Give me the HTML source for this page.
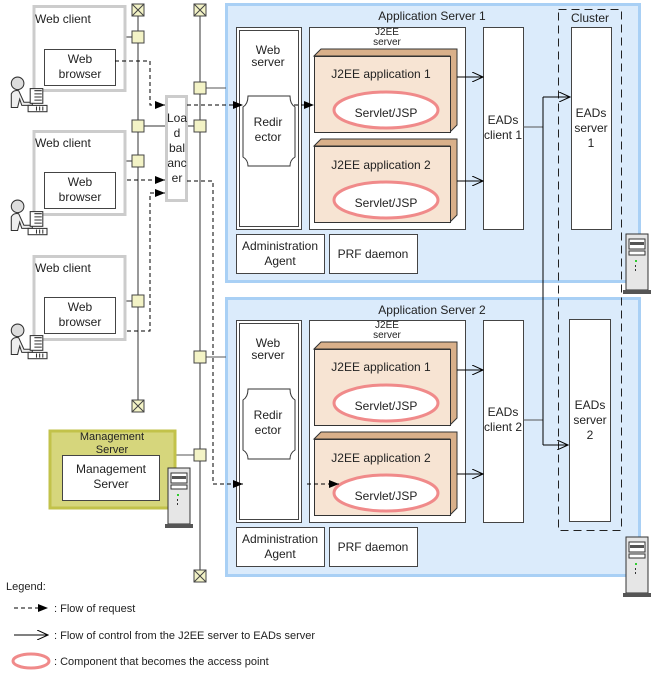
<!DOCTYPE html>
<html><head><meta charset="utf-8"><style>
html,body{margin:0;padding:0;background:#fff}
text{font-family:"Liberation Sans",Arial,sans-serif;fill:#222}
</style></head><body>
<svg width="661" height="677" viewBox="0 0 661 677" xmlns="http://www.w3.org/2000/svg">
<defs>
<marker id="fa" markerWidth="10" markerHeight="8" refX="10" refY="4" orient="auto" markerUnits="userSpaceOnUse"><path d="M0,0 L10,4 L0,8 z" fill="#000"/></marker>
<marker id="oa" markerWidth="12" markerHeight="10" refX="11" refY="5" orient="auto" markerUnits="userSpaceOnUse"><path d="M0,0 L11,5 L0,10" fill="none" stroke="#000" stroke-width="1"/></marker>
<g id="sq"><rect x="-6" y="-6" width="12" height="12" fill="#f3f3c6" stroke="#444"/></g>
<g id="term"><rect x="-6" y="-6" width="12" height="12" fill="#f3f3c6" stroke="#444"/><path d="M-6,-6 L6,6 M6,-6 L-6,6" stroke="#444"/></g>
<g id="srv"><rect x="2" y="0" width="22" height="56" fill="#e6e6e6" stroke="#333"/><rect x="5" y="5" width="16" height="10" fill="#fff" stroke="#333"/><rect x="6" y="8" width="14" height="3" fill="#555"/><rect x="5" y="17" width="16" height="4" fill="#fff" stroke="#333"/><rect x="11" y="26" width="2" height="2" fill="#3c3"/><rect x="11" y="31" width="1" height="2" fill="#333"/><rect x="11" y="35" width="1" height="2" fill="#333"/><rect x="-1" y="56" width="28" height="4" fill="#555"/></g>
<g id="usr"><circle cx="12" cy="7" r="6" fill="#ddd" stroke="#333"/><path d="M6,30 L6,17 Q8,13 13,14 L18,25 L26,25 L26,28 L16,28 L14,22 L12,30 Z" fill="#eee" stroke="#333"/><rect x="24" y="12" width="12" height="14" fill="#fff" stroke="#333"/><path d="M28,14 h7 M28,17 h7 M28,20 h7 M28,23 h7" stroke="#333"/><rect x="22" y="28" width="18" height="6" fill="#fff" stroke="#333"/><path d="M30,29 v4 M33,29 v4 M36,29 v4" stroke="#333"/></g>
</defs>

<rect x="226.5" y="4.5" width="413" height="277" fill="#dbebfb" stroke="#a9d0f5" stroke-width="3"/>
<rect x="226.5" y="298.5" width="413" height="277" fill="#dbebfb" stroke="#a9d0f5" stroke-width="3"/>
<text x="432" y="20" font-size="12" text-anchor="middle">Application Server 1</text>
<text x="432" y="314" font-size="12" text-anchor="middle">Application Server 2</text>

<line x1="138" y1="10" x2="138" y2="406" stroke="#333"/>
<line x1="200" y1="10" x2="200" y2="576" stroke="#333"/>
<line x1="126" y1="37" x2="138" y2="37" stroke="#333"/>
<line x1="126" y1="161" x2="138" y2="161" stroke="#333"/>
<line x1="126" y1="301" x2="138" y2="301" stroke="#333"/>
<line x1="138" y1="126" x2="165" y2="126" stroke="#333"/>
<line x1="187" y1="126" x2="200" y2="126" stroke="#333"/>
<line x1="200" y1="88" x2="226" y2="88" stroke="#555"/>
<line x1="200" y1="357" x2="226" y2="357" stroke="#555"/>
<line x1="176" y1="455" x2="200" y2="455" stroke="#555"/>
<use href="#term" x="138" y="10"/><use href="#term" x="138" y="406"/>
<use href="#term" x="200" y="10"/><use href="#term" x="200" y="576"/>
<use href="#sq" x="138" y="37"/><use href="#sq" x="138" y="126"/><use href="#sq" x="138" y="161"/><use href="#sq" x="138" y="301"/>
<use href="#sq" x="200" y="88"/><use href="#sq" x="200" y="126"/><use href="#sq" x="200" y="357"/><use href="#sq" x="200" y="455"/>

<g fill="#fff" stroke="#ccc" stroke-width="3">
<rect x="34" y="6.5" width="91" height="84"/><rect x="34" y="131.5" width="91" height="83"/><rect x="34" y="256.5" width="91" height="83"/>
</g>
<text x="35" y="23" font-size="12">Web client</text>
<text x="35" y="147" font-size="12">Web client</text>
<text x="35" y="272" font-size="12">Web client</text>
<g fill="#fff" stroke="#444"><rect x="44.5" y="49.5" width="71" height="36"/><rect x="44.5" y="172.5" width="71" height="36"/><rect x="44.5" y="297.5" width="71" height="36"/></g>
<g font-size="12" text-anchor="middle"><text x="80" y="63">Web</text><text x="80" y="78">browser</text><text x="80" y="186">Web</text><text x="80" y="201">browser</text><text x="80" y="311">Web</text><text x="80" y="326">browser</text></g>
<use href="#usr" transform="translate(5,76) scale(1.05)"/><use href="#usr" transform="translate(5,199) scale(1.05)"/><use href="#usr" transform="translate(5,323) scale(1.05)"/>

<rect x="166.5" y="96.5" width="20" height="104" fill="#fff" stroke="#ccc" stroke-width="3"/>
<g font-size="12" text-anchor="middle"><text x="177" y="122">Loa</text><text x="177" y="137">d</text><text x="177" y="152">bal</text><text x="177" y="167">anc</text><text x="177" y="182">er</text></g>

<rect x="50" y="431" width="125" height="77" fill="#d6d67c" stroke="#c2c24a" stroke-width="3"/>
<text x="112" y="440" font-size="11" text-anchor="middle">Management</text>
<text x="112" y="453" font-size="11" text-anchor="middle">Server</text>
<rect x="62.5" y="455.5" width="97" height="45" fill="#fff" stroke="#444"/>
<text x="111" y="473" font-size="12" text-anchor="middle">Management</text>
<text x="111" y="488" font-size="12" text-anchor="middle">Server</text>
<use href="#srv" x="166" y="468"/>
<use href="#srv" x="624" y="234"/>
<use href="#srv" x="624" y="537"/>

<g id="as1">
<rect x="236.5" y="27.5" width="65" height="202" fill="#fff" stroke="#444"/>
<rect x="239.5" y="30.5" width="59" height="196" fill="none" stroke="#444"/>
<text x="268" y="54" font-size="12" text-anchor="middle">Web</text><text x="268" y="66" font-size="12" text-anchor="middle">server</text>
<path d="M248,96 H290 Q290,104 295,107 V157 Q290,160 290,166 H248 Q248,160 243,157 V107 Q248,104 248,96 Z" fill="#fff" stroke="#333"/>
<text x="268" y="126" font-size="12" text-anchor="middle">Redir</text><text x="268" y="141" font-size="12" text-anchor="middle">ector</text>
<rect x="309.5" y="27.5" width="156" height="202" fill="#fff" stroke="#444"/>
<text x="387" y="35" font-size="10" text-anchor="middle">J2EE</text><text x="387" y="45" font-size="10" text-anchor="middle">server</text>
<path d="M314,56 L321,49 L457,49 L457,125 L450,132 L450,56 Z" fill="#d9b08a" stroke="#333"/>
<rect x="314.5" y="56.5" width="136" height="76" fill="#f7e4d3" stroke="#333"/>
<text x="381" y="78" font-size="12" text-anchor="middle">J2EE application 1</text>
<ellipse cx="386" cy="110" rx="52" ry="18" fill="#fff" stroke="#f08a8a" stroke-width="3"/>
<text x="386" y="117" font-size="12" text-anchor="middle">Servlet/JSP</text>
<path d="M314,146 L321,139 L457,139 L457,215 L450,222 L450,146 Z" fill="#d9b08a" stroke="#333"/>
<rect x="314.5" y="146.5" width="136" height="76" fill="#f7e4d3" stroke="#333"/>
<text x="381" y="169" font-size="12" text-anchor="middle">J2EE application 2</text>
<ellipse cx="386" cy="200" rx="52" ry="18" fill="#fff" stroke="#f08a8a" stroke-width="3"/>
<text x="386" y="207" font-size="12" text-anchor="middle">Servlet/JSP</text>
<rect x="483.5" y="27.5" width="40" height="202" fill="#fff" stroke="#444"/>
<line x1="457" y1="77" x2="483" y2="77" stroke="#000" marker-end="url(#oa)"/>
<line x1="457" y1="181" x2="483" y2="181" stroke="#000" marker-end="url(#oa)"/>
<rect x="236.5" y="234.5" width="88" height="39" fill="#fff" stroke="#444"/>
<text x="280" y="250" font-size="12" text-anchor="middle">Administration</text><text x="280" y="265" font-size="12" text-anchor="middle">Agent</text>
<rect x="329.5" y="234.5" width="88" height="39" fill="#fff" stroke="#444"/>
<text x="373" y="258" font-size="12" text-anchor="middle">PRF daemon</text>
</g>
<use href="#as1" x="0" y="293"/>
<text x="503" y="124" font-size="12" text-anchor="middle">EADs</text><text x="503" y="139" font-size="12" text-anchor="middle">client 1</text>
<text x="503" y="416" font-size="12" text-anchor="middle">EADs</text><text x="503" y="431" font-size="12" text-anchor="middle">client 2</text>

<rect x="558.5" y="9.5" width="63" height="521" fill="none" stroke="#222" stroke-dasharray="8,5"/>
<text x="590" y="22" font-size="12" text-anchor="middle">Cluster</text>
<rect x="571.5" y="27.5" width="40" height="202" fill="#fff" stroke="#444"/>
<rect x="569.5" y="319.5" width="41" height="202" fill="#fff" stroke="#444"/>
<g font-size="12" text-anchor="middle"><text x="591" y="117">EADs</text><text x="591" y="132">server</text><text x="591" y="147">1</text>
<text x="590" y="409">EADs</text><text x="590" y="424">server</text><text x="590" y="439">2</text></g>
<path d="M523,127 H543 M523,420 H543" stroke="#555"/>
<line x1="543" y1="97" x2="543" y2="445" stroke="#000"/>
<line x1="543" y1="97" x2="570" y2="97" stroke="#000" marker-end="url(#oa)"/>
<line x1="543" y1="445" x2="568" y2="445" stroke="#000" marker-end="url(#oa)"/>

<g stroke="#000" stroke-dasharray="4,3" fill="none">
<path d="M115,61 H150 V105 H165" marker-end="url(#fa)"/>
<path d="M187,105 H243" marker-end="url(#fa)"/>
<path d="M294,105 H314" marker-end="url(#fa)"/>
<path d="M127,180 H165" marker-end="url(#fa)"/>
<path d="M127,331 H150 V193 H165" marker-end="url(#fa)"/>
<path d="M187,181 H213 V484 H243" marker-end="url(#fa)"/>
<path d="M307,484 H339" marker-end="url(#fa)"/>
</g>

<text x="6" y="590" font-size="11">Legend:</text>
<path d="M14,608 H48" stroke="#000" stroke-dasharray="4,3" marker-end="url(#fa)"/>
<text x="54" y="612" font-size="11">: Flow of request</text>
<line x1="14" y1="635" x2="48" y2="635" stroke="#000" marker-end="url(#oa)"/>
<text x="54" y="639" font-size="11">: Flow of control from the J2EE server to EADs server</text>
<ellipse cx="31" cy="661" rx="18" ry="7" fill="#fff" stroke="#f08a8a" stroke-width="3"/>
<text x="54" y="665" font-size="11">: Component that becomes the access point</text>
</svg>
</body></html>
